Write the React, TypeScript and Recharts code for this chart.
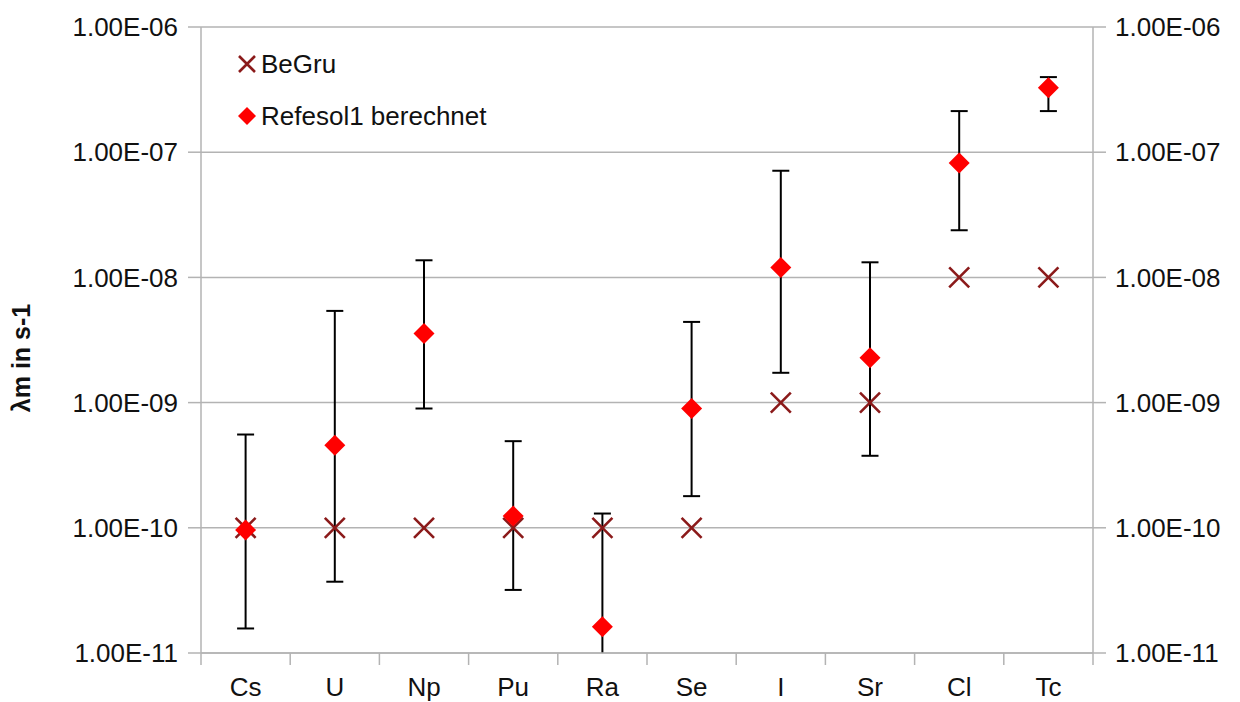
import { ComposedChart, Scatter, XAxis, YAxis, CartesianGrid, ErrorBar, Legend } from 'recharts';

// elements on the x axis
const categories = ['Cs', 'U', 'Np', 'Pu', 'Ra', 'Se', 'I', 'Sr', 'Cl', 'Tc'];

// BeGru reference values (s-1)
const begru = [1e-10, 1e-10, 1e-10, 1e-10, 1e-10, 1e-10, 1e-9, 1e-9, 1e-8, 1e-8];

// Refesol1 calculated values with lower / upper bounds (s-1)
const refesol = [9.6e-11, 4.57e-10, 3.56e-9, 1.24e-10, 1.62e-11, 8.97e-10, 1.2e-8, 2.28e-9, 8.18e-8, 3.27e-7];
const refesolLow = [1.57e-11, 3.71e-11, 8.97e-10, 3.19e-11, 2e-12, 1.79e-10, 1.73e-9, 3.76e-10, 2.38e-8, 2.13e-7];
const refesolHigh = [5.56e-10, 5.4e-9, 1.37e-8, 4.92e-10, 1.3e-10, 4.41e-9, 7.11e-8, 1.32e-8, 2.13e-7, 3.98e-7];

const yTicks = [1e-11, 1e-10, 1e-9, 1e-8, 1e-7, 1e-6];

const GRID = '#b3b3b3';
const TEXT = '#111';
const FONT = '"Liberation Sans", Arial, sans-serif';

// chart frame
const W = 1240;
const H = 702;
const TOP = 27;
const LEFT_W = 201;
const RIGHT_W = 147;
const X_H = 49;

// category i sits in the middle of slot [i, i+1]
const rows = categories.map((name, i) => ({
  name,
  pos: i + 0.5,
  begru: begru[i],
  refesol: refesol[i],
  err: [refesol[i] - refesolLow[i], refesolHigh[i] - refesol[i]],
}));

// integer ticks = slot borders, half ticks = category labels
const xTicks = Array.from({ length: categories.length * 2 + 1 }, (_, i) => i / 2);

const fmtExp = (v: number) => {
  const [m, e] = v.toExponential(2).split('e');
  const n = Math.abs(parseInt(e, 10));
  return `${m}E${e.startsWith('-') ? '-' : '+'}${String(n).padStart(2, '0')}`;
};

const CategoryTick = (props: any) => {
  const { x, y, payload } = props;
  const v = payload.value;
  if (Number.isInteger(v)) {
    return <line x1={x} x2={x} y1={y} y2={y + 12} stroke={GRID} strokeWidth={1.5} />;
  }
  return (
    <text x={x} y={y + 43} textAnchor="middle" fontSize={26} fill={TEXT} fontFamily={FONT}>
      {categories[Math.floor(v)]}
    </text>
  );
};

const Cross = ({ cx, cy, r = 10 }: any) => (
  <path
    d={`M${cx - r} ${cy - r}L${cx + r} ${cy + r}M${cx + r} ${cy - r}L${cx - r} ${cy + r}`}
    stroke="#8b1a1a"
    strokeWidth={2.6}
    fill="none"
  />
);

const Diamond = ({ cx, cy, r = 10.5 }: any) => (
  <path d={`M${cx} ${cy - r}L${cx + r} ${cy}L${cx} ${cy + r}L${cx - r} ${cy}Z`} fill="#ff0000" />
);

const LegendContent = (props: any) => {
  const items = (props.payload || []).filter((e: any) => e.type !== 'none');
  return (
    <div style={{ fontFamily: FONT, fontSize: 26, color: TEXT }}>
      {items.map((entry: any, i: number) => (
        <div key={i} style={{ display: 'flex', alignItems: 'center', height: 52 }}>
          <svg width={20} height={20} style={{ marginRight: 4 }}>
            {i === 0 ? <Cross cx={10} cy={10} r={8} /> : <Diamond cx={10} cy={10} r={9} />}
          </svg>
          <span>{entry.value}</span>
        </div>
      ))}
    </div>
  );
};

const AxisTitle = ({ viewBox }: any) => {
  const cx = viewBox.x + 21;
  const cy = viewBox.y + viewBox.height / 2 + 18;
  return (
    <text
      transform={`translate(${cx},${cy}) rotate(-90)`}
      textAnchor="middle"
      dominantBaseline="central"
      fontSize={25}
      fontWeight="bold"
      fill={TEXT}
      fontFamily={FONT}
    >
      λm in s-1
    </text>
  );
};

export default function App() {
  return (
    <div style={{ position: 'absolute', left: 0, top: 0, background: '#fff' }}>
      {/* error bars that run past the axis get cut at the plot frame */}
      <style>
        {'.recharts-errorBars, .recharts-errorBar, .err-layer { clip-path: url(#plot-frame); }'}
      </style>
      <svg width={1} height={1} style={{ position: 'absolute', left: 0, top: 0 }}>
        <defs>
          <clipPath id="plot-frame" clipPathUnits="userSpaceOnUse">
            <rect x={LEFT_W} y={TOP} width={W - LEFT_W - RIGHT_W} height={H - TOP - X_H} />
          </clipPath>
        </defs>
      </svg>
      <ComposedChart
        width={W}
        height={H}
        data={rows}
        margin={{ top: TOP, right: 0, bottom: 0, left: 0 }}
        style={{ fontFamily: FONT }}
      >
        <CartesianGrid yAxisId="left" vertical={false} stroke={GRID} strokeWidth={1.5} />
        <XAxis
          dataKey="pos"
          type="number"
          domain={[0, categories.length]}
          ticks={xTicks}
          interval={0}
          height={X_H}
          tickLine={false}
          tickSize={0}
          tickMargin={0}
          axisLine={{ stroke: GRID, strokeWidth: 1.5 }}
          tick={<CategoryTick />}
        />
        <YAxis
          yAxisId="left"
          scale="log"
          domain={[1e-11, 1e-6]}
          ticks={yTicks}
          allowDataOverflow
          width={LEFT_W}
          tickSize={13}
          tickMargin={10}
          tickLine={{ stroke: GRID, strokeWidth: 1.5 }}
          axisLine={{ stroke: GRID, strokeWidth: 1.5 }}
          tick={{ fontSize: 26, fill: TEXT }}
          tickFormatter={fmtExp}
          label={{ content: <AxisTitle /> }}
        />
        <YAxis
          yAxisId="right"
          orientation="right"
          scale="log"
          domain={[1e-11, 1e-6]}
          ticks={yTicks}
          allowDataOverflow
          width={RIGHT_W}
          tickSize={13}
          tickMargin={9}
          tickLine={{ stroke: GRID, strokeWidth: 1.5 }}
          axisLine={{ stroke: GRID, strokeWidth: 1.5 }}
          tick={{ fontSize: 26, fill: TEXT, textAnchor: 'start' }}
          tickFormatter={fmtExp}
        />
        <Legend
          layout="horizontal"
          verticalAlign="middle"
          align="center"
          content={<LegendContent />}
          wrapperStyle={{ left: 237, top: 38, width: 'auto' }}
        />
        <Scatter
          name="BeGru"
          yAxisId="left"
          dataKey="begru"
          fill="#8b1a1a"
          shape={<Cross />}
          isAnimationActive={false}
        />
        <Scatter
          name="Refesol1 berechnet"
          yAxisId="left"
          dataKey="refesol"
          fill="#ff0000"
          shape={<Diamond />}
          isAnimationActive={false}
        />
        {/* error bars drawn after the diamonds so they sit on top */}
        <Scatter
          className="err-layer"
          yAxisId="left"
          dataKey="refesol"
          legendType="none"
          shape={() => <g />}
          isAnimationActive={false}
        >
          <ErrorBar
            dataKey="err"
            direction="y"
            width={8.5}
            stroke="#000"
            strokeWidth={2}
            isAnimationActive={false}
          />
        </Scatter>
      </ComposedChart>
    </div>
  );
}
